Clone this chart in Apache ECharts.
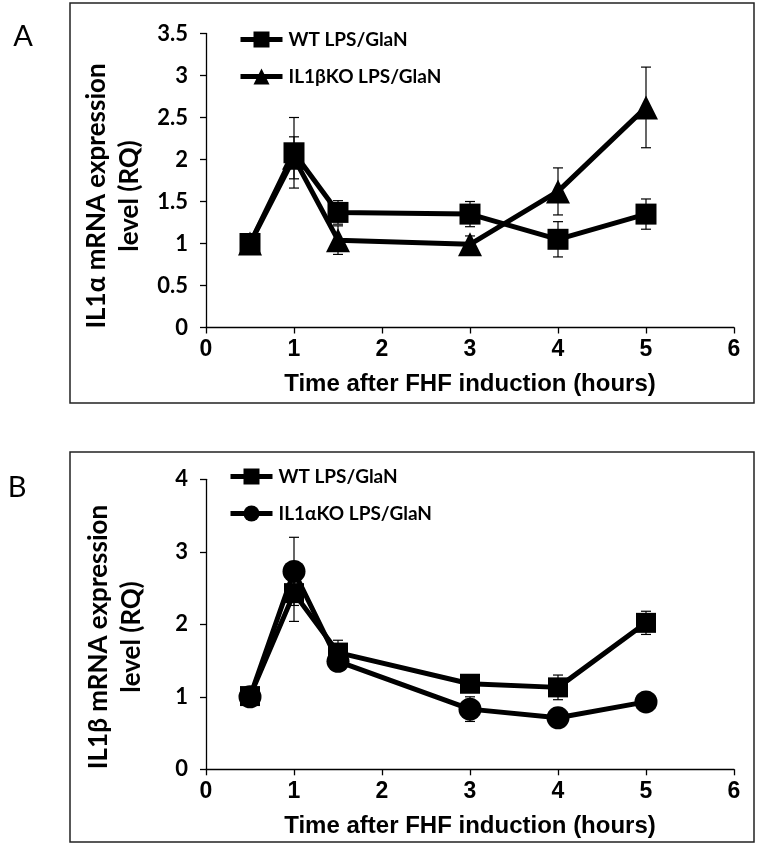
<!DOCTYPE html>
<html><head><meta charset="utf-8">
<script src="https://cdn.jsdelivr.net/npm/echarts@6/dist/echarts.min.js"></script>
<style>html,body{margin:0;padding:0;background:#fff}#c{width:758px;height:846px}</style>
</head><body><div id="c"></div>
<script>
// ---- data ----
const hours = [0.5, 1, 1.5, 3, 4, 5];
const xTicks = [0, 1, 2, 3, 4, 5, 6];
const nameWT = 'WT LPS/GlaN';
const nameKOA = 'IL1βKO LPS/GlaN';
const nameKOB = 'IL1αKO LPS/GlaN';
// Panel A: IL1α expression
const wtA = [1.00, 2.08, 1.37, 1.35, 1.05, 1.35];
const wtAerr = [0.05, 0.42, 0.14, 0.15, 0.21, 0.18];
const koA = [1.00, 2.02, 1.04, 0.99, 1.62, 2.62];
const koAerr = [0.05, 0.25, 0.17, 0.10, 0.28, 0.48];
// Panel B: IL1β expression
const wtB = [1.01, 2.43, 1.61, 1.18, 1.13, 2.02];
const wtBerr = [0.05, 0.39, 0.17, 0.10, 0.17, 0.16];
const koB = [1.00, 2.73, 1.49, 0.83, 0.71, 0.93];
const koBerr = [0.05, 0.47, 0.10, 0.17, 0.08, 0.06];
const titleA = 'IL1α mRNA expression\nlevel (RQ)';
const titleB = 'IL1β mRNA expression\nlevel (RQ)';
const xTitle = 'Time after FHF induction (hours)';

const CAL = 'Lato';
const ARI = 'Liberation Sans';

function pts(ys){ return hours.map((x,i)=>[x, ys[i]]); }
function errPts(ys, es){ return hours.map((x,i)=>[x, ys[i]-es[i], ys[i]+es[i]]); }
function errRender(params, api){
  const x = api.value(0), lo = api.value(1), hi = api.value(2);
  const a = api.coord([x, hi]), b = api.coord([x, lo]);
  const w = 5, st = {stroke:'#000', lineWidth:1.2};
  return {type:'group', children:[
    {type:'line', shape:{x1:a[0], y1:a[1], x2:b[0], y2:b[1]}, style:st},
    {type:'line', shape:{x1:a[0]-w, y1:a[1], x2:a[0]+w, y2:a[1]}, style:st},
    {type:'line', shape:{x1:b[0]-w, y1:b[1], x2:b[0]+w, y2:b[1]}, style:st}
  ]};
}
function lineSeries(name, ys, sym, size, gi){
  return {type:'line', name, data: pts(ys), xAxisIndex:gi, yAxisIndex:gi,
    symbol:sym, symbolSize:size, showAllSymbol:true,
    lineStyle:{color:'#000', width:5}, itemStyle:{color:'#000', borderWidth:0},
    z:3, animation:false};
}
function errSeries(ys, es, gi){
  return {type:'custom', data: errPts(ys, es), xAxisIndex:gi, yAxisIndex:gi,
    renderItem: errRender, encode:{x:0, y:[1,2]}, z:4, silent:true, animation:false};
}
function xAx(gi){
  return {type:'value', gridIndex:gi, min:0, max:6, interval:1,
    axisLine:{lineStyle:{color:'#000', width:1.3}},
    axisTick:{show:true, length:6, lineStyle:{color:'#000', width:1.3}},
    axisLabel:{color:'#000', fontFamily:ARI, fontWeight:'bold', fontSize:23, margin:11},
    splitLine:{show:false},
    name: xTitle, nameLocation:'middle', nameGap:45,
    nameTextStyle:{color:'#000', fontFamily:ARI, fontWeight:'bold', fontSize:24}};
}
function yAx(gi, max, interval){
  return {type:'value', gridIndex:gi, min:0, max, interval,
    axisLine:{show:true, lineStyle:{color:'#000', width:1.3}},
    axisTick:{show:true, length:6, lineStyle:{color:'#000', width:1.3}},
    axisLabel:{color:'#000', fontFamily:CAL, fontWeight:'bold', fontSize:22, margin:18},
    splitLine:{show:false}};
}
function legend(names, left, top){
  return {data:names, orient:'vertical', left, top, itemWidth:42, itemHeight:20,
    itemGap:18, selectedMode:false,
    lineStyle:{width:5, color:'#000'},
    textStyle:{color:'#000', fontFamily:CAL, fontWeight:'bold', fontSize:19, padding:[0,0,0,1]}};
}

const chart = echarts.init(document.getElementById('c'), null, {renderer:'canvas'});
chart.setOption({
  backgroundColor:'#fff',
  animation:false,
  grid:[
    {left:206, right:24, top:33.5, height:294},
    {left:206, right:24, top:479.3, height:290}
  ],
  xAxis:[xAx(0), xAx(1)],
  yAxis:[yAx(0, 3.5, 0.5), yAx(1, 4, 1)],
  legend:[legend([nameWT, nameKOA], 233, 25), legend([nameWT, nameKOB], 223, 462)],
  series:[
    lineSeries(nameKOA, koA, 'triangle', 24, 0),
    lineSeries(nameWT, wtA, 'rect', 21, 0),
    errSeries(wtA, wtAerr, 0),
    errSeries(koA, koAerr, 0),
    lineSeries(nameKOB, koB, 'circle', 23, 1),
    lineSeries(nameWT, wtB, 'rect', 20, 1),
    errSeries(wtB, wtBerr, 1),
    errSeries(koB, koBerr, 1)
  ],
  graphic:[
    {type:'rect', shape:{x:70, y:3, width:684, height:400}, style:{fill:null, stroke:'#222', lineWidth:1.5}, z:-1},
    {type:'rect', shape:{x:70, y:452, width:684, height:390}, style:{fill:null, stroke:'#222', lineWidth:1.5}, z:-1},
    {type:'text', x:23, y:37, style:{text:'A', font:'29px Lato', fill:'#000', textAlign:'center', textVerticalAlign:'middle'}},
    {type:'text', x:17, y:488, style:{text:'B', font:'29px Lato', fill:'#000', textAlign:'center', textVerticalAlign:'middle'}},
    {type:'text', x:113, y:196, rotation:Math.PI/2, style:{text:titleA, font:'bold 26px Lato', lineHeight:33, fill:'#000', textAlign:'center', textVerticalAlign:'middle'}},
    {type:'text', x:115, y:637, rotation:Math.PI/2, style:{text:titleB, font:'bold 26px Lato', lineHeight:33, fill:'#000', textAlign:'center', textVerticalAlign:'middle'}}
  ]
});
</script>
</body></html>
